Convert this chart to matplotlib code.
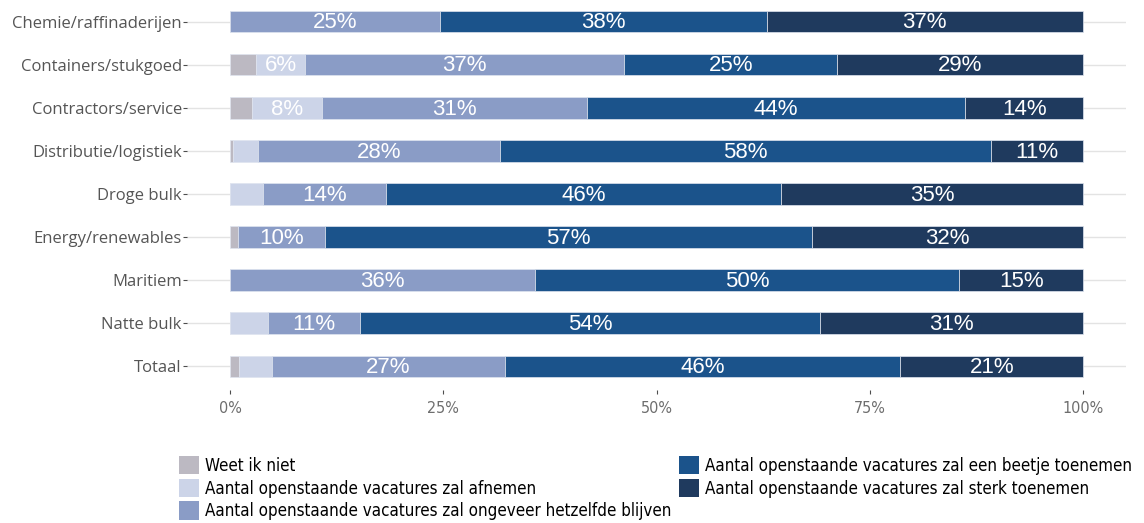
import matplotlib
matplotlib.use("Agg")
import matplotlib.pyplot as plt
from matplotlib.patches import Patch
import math

categories = ["Chemie/raffinaderijen", "Containers/stukgoed", "Contractors/service",
              "Distributie/logistiek", "Droge bulk", "Energy/renewables", "Maritiem",
              "Natte bulk", "Totaal"]
series_names = ["Weet ik niet",
                "Aantal openstaande vacatures zal afnemen",
                "Aantal openstaande vacatures zal ongeveer hetzelfde blijven",
                "Aantal openstaande vacatures zal een beetje toenemen",
                "Aantal openstaande vacatures zal sterk toenemen"]
weet_niet = [0.0, 3.1, 2.6, 0.4, 0.0, 0.9, 0.0, 0.0, 1.1]
afnemen = [0.0, 5.7, 8.2, 2.9, 3.9, 0.0, 0.0, 4.5, 3.8]
hetzelfde = [24.6, 37.4, 31.0, 28.3, 14.4, 10.2, 35.8, 10.7, 27.3]
beetje = [38.3, 25.0, 44.4, 57.6, 46.3, 57.1, 49.7, 54.0, 46.4]
sterk = [37.1, 28.8, 13.8, 10.8, 35.4, 31.8, 14.5, 30.8, 21.4]
xtick_values = [0, 25, 50, 75, 100]
xtick_labels = ["0%", "25%", "50%", "75%", "100%"]

colors = ["#bcb9c2", "#ccd4e8", "#8a9cc6", "#1b538b", "#1f3a5e"]
series = [weet_niet, afnemen, hetzelfde, beetje, sterk]

W, H = 1144, 523
fig = plt.figure(figsize=(W / 100, H / 100), dpi=100)
ax = fig.add_axes([187.4 / W, 1 - 390 / H, (1125.6 - 187.4) / W, 390 / H])

y = list(range(len(categories)))
for yi in y:
    ax.axhline(yi, color="#e3e3e3", lw=1.0, zorder=0)

left = [0.0] * len(categories)
for vals, col in zip(series, colors):
    ax.barh(y, vals, left=left, height=0.5, color=col, edgecolor="#dfe4ef",
            linewidth=0.5, zorder=2)
    for yi, (l, v) in enumerate(zip(left, vals)):
        if v >= 5:
            ax.text(l + v / 2, yi + 0.03, f"{math.floor(v + 0.5)}%", ha="center", va="center",
                    color="white", fontsize=16, family="Liberation Sans", zorder=3)
    left = [a + b for a, b in zip(left, vals)]

ax.set_xlim(-5, 105)
ax.set_ylim(8.55, -0.5)
ax.set_yticks(y)
ax.set_yticklabels(categories, fontsize=12.0, color="#555555", family="Open Sans")
ax.set_xticks(xtick_values)
ax.set_xticklabels(xtick_labels, fontsize=11.5, color="#6e6e6e", family="DejaVu Sans",
                   fontstretch="condensed")
ax.tick_params(axis="y", length=3, color="#4d4d4d", pad=1)
ax.tick_params(axis="x", length=3, color="#4d4d4d", pad=5)
for s in ax.spines.values():
    s.set_visible(False)

handles = [Patch(facecolor=c, edgecolor="none") for c in colors]
leg_kw = dict(frameon=False, handlelength=1.2, handleheight=1.3,
              handletextpad=0.35, labelspacing=0.22, borderaxespad=0, borderpad=0,
              prop={"family": "DejaVu Sans", "stretch": "condensed", "size": 12.2})
fig.legend(handles[:3], series_names[:3], loc="upper left",
           bbox_to_anchor=(179 / W, 1 - 456 / H), **leg_kw)
fig.legend(handles[3:], series_names[3:], loc="upper left",
           bbox_to_anchor=(679 / W, 1 - 456 / H), **leg_kw)

fig.savefig("out.png", dpi=100)
